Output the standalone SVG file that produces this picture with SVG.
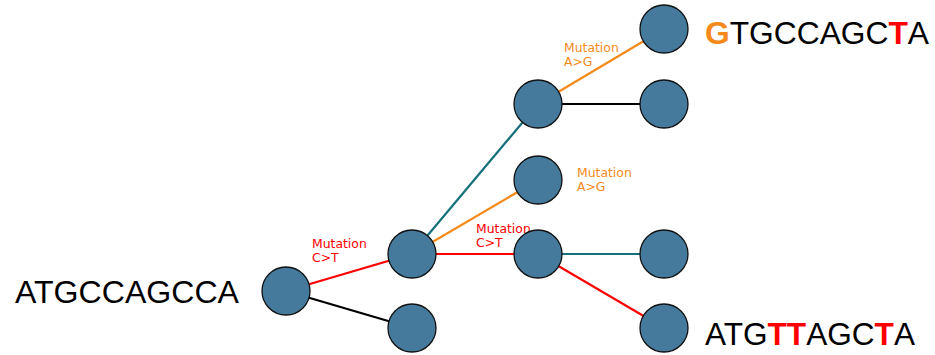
<svg xmlns="http://www.w3.org/2000/svg" width="935" height="355" viewBox="0 0 935 355">
<style>
.node{fill:#457a9c;stroke:#111;stroke-width:1.3}
.e{stroke-width:2.2;fill:none}
.red{stroke:#ff0000}.blk{stroke:#000}.teal{stroke:#15707a}.org{stroke:#f58a1a}
.seq{font-family:"Liberation Sans",Arial,sans-serif;font-size:31px;fill:#000}
.lbl{font-family:"DejaVu Sans",sans-serif;font-size:12.4px}
.lr{fill:#ff0000}.lo{fill:#f58a1a}
.bR{fill:#ff0000;font-weight:bold}.bO{fill:#f58a1a;font-weight:bold}
</style>
<rect width="935" height="355" fill="#fff"/>
<g id="edges">
<line class="e red" x1="286" y1="291" x2="412" y2="254"/>
<line class="e blk" x1="286" y1="291" x2="412" y2="328"/>
<line class="e teal" x1="412" y1="254" x2="538" y2="104"/>
<line class="e org" x1="412" y1="254" x2="538" y2="180"/>
<line class="e red" x1="412" y1="254" x2="538" y2="254"/>
<line class="e org" x1="538" y1="104" x2="664" y2="29"/>
<line class="e blk" x1="538" y1="104" x2="664" y2="104"/>
<line class="e teal" x1="538" y1="254" x2="664" y2="254"/>
<line class="e red" x1="538" y1="254" x2="664" y2="328"/>
</g>
<g id="labels">
<text class="lbl lr" x="312" y="248">Mutation</text>
<text class="lbl lr" x="312" y="262">C&gt;T</text>
<text class="lbl lr" x="476" y="233">Mutation</text>
<text class="lbl lr" x="476" y="247">C&gt;T</text>
<text class="lbl lo" x="564" y="52">Mutation</text>
<text class="lbl lo" x="564" y="66">A&gt;G</text>
<text class="lbl lo" x="577" y="177">Mutation</text>
<text class="lbl lo" x="577" y="191">A&gt;G</text>
</g>
<g id="root"><circle class="node" cx="286" cy="291" r="24"/><text class="seq" x="15" y="303" textLength="224" lengthAdjust="spacingAndGlyphs">ATGCCAGCCA</text></g>
<g id="n1"><circle class="node" cx="412" cy="254" r="24"/></g>
<g id="n2"><circle class="node" cx="412" cy="328" r="24"/></g>
<g id="nA"><circle class="node" cx="538" cy="104" r="24"/></g>
<g id="nB"><circle class="node" cx="664" cy="29" r="24"/><text class="seq" x="705" y="44" textLength="224" lengthAdjust="spacingAndGlyphs"><tspan class="bO">G</tspan>TGCCAGC<tspan class="bR">T</tspan>A</text></g>
<g id="nC"><circle class="node" cx="664" cy="104" r="24"/></g>
<g id="nD"><circle class="node" cx="538" cy="180" r="24"/></g>
<g id="nE"><circle class="node" cx="538" cy="254" r="24"/></g>
<g id="nF"><circle class="node" cx="664" cy="254" r="24"/></g>
<g id="nG"><circle class="node" cx="664" cy="328" r="24"/><text class="seq" x="705" y="345" textLength="210" lengthAdjust="spacingAndGlyphs">ATG<tspan class="bR">TT</tspan>AGC<tspan class="bR">T</tspan>A</text></g>
</svg>
